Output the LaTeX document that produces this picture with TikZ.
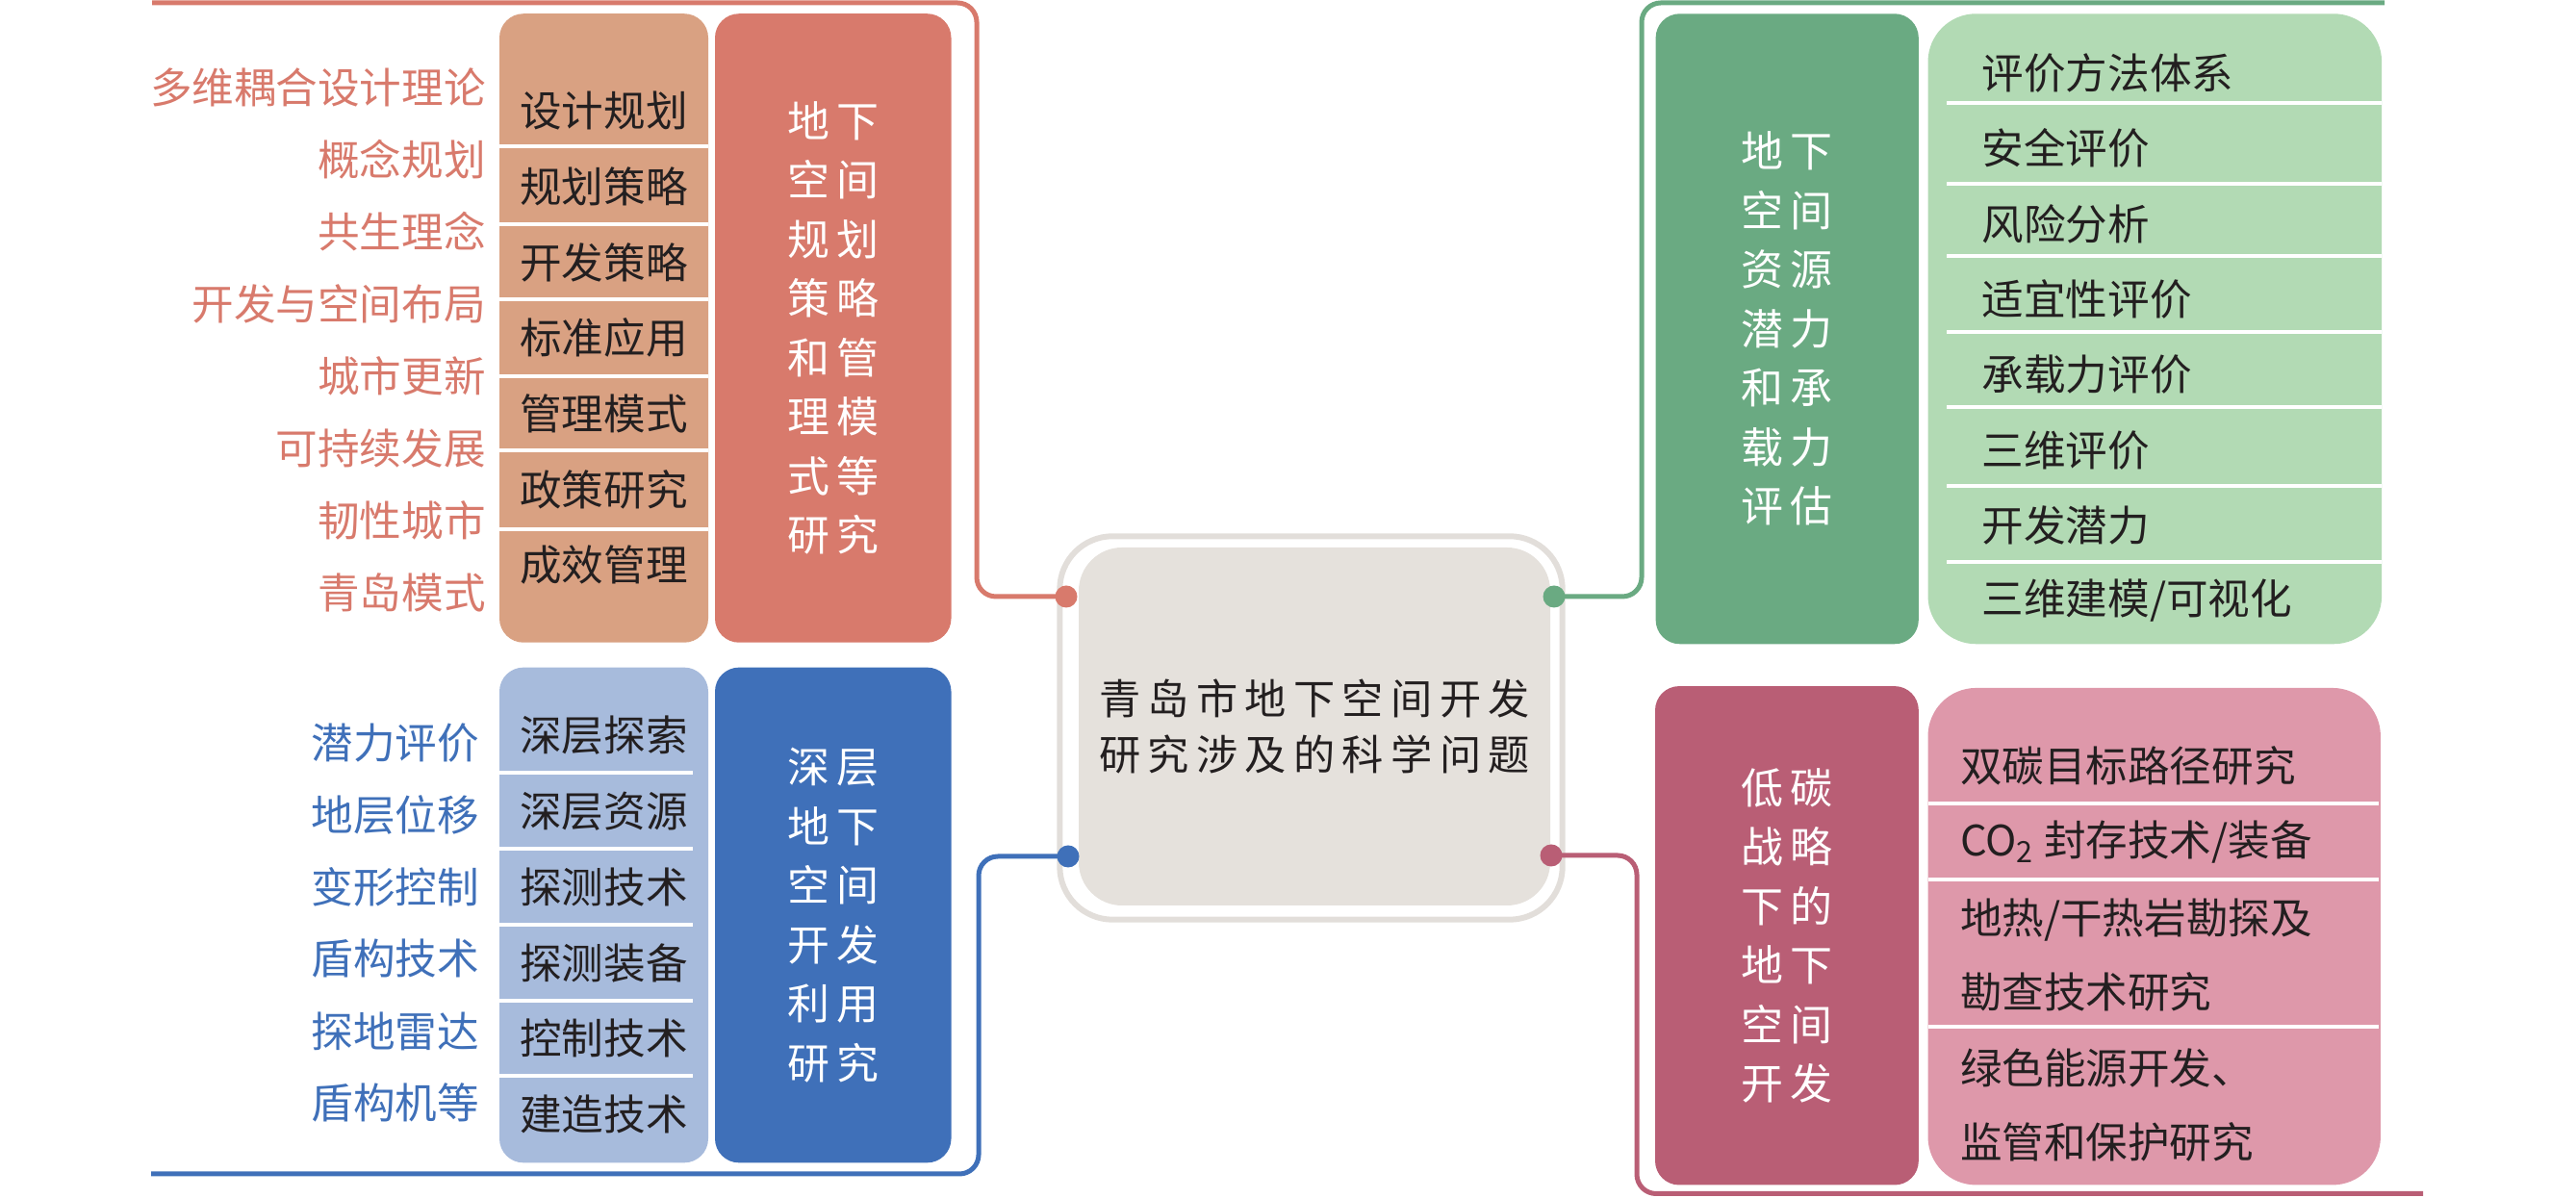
\documentclass[tikz,border=0pt]{standalone}
\usepackage{fontspec}
\setmainfont{Noto Sans CJK SC}
\newfontfamily\hubfont[LetterSpace=17]{Noto Sans CJK SC}
\usepackage{tikz}
\usetikzlibrary{shapes,arrows,calc,positioning}

\definecolor{planlight}{HTML}{D9A182}
\definecolor{plandark}{HTML}{D87A6C}
\definecolor{deeplight}{HTML}{A7BBDC}
\definecolor{deepdark}{HTML}{3F70B9}
\definecolor{evallight}{HTML}{B2DAB4}
\definecolor{evaldark}{HTML}{6AAA82}
\definecolor{lowlight}{HTML}{DE98AA}
\definecolor{lowdark}{HTML}{B95E75}
\definecolor{hubfill}{HTML}{E5E1DC}
\definecolor{hubring}{HTML}{E2DEDA}
\definecolor{inktext}{HTML}{231F20}

\newcommand{\colgap}{\hspace{0.07cm}}

\tikzset{
 groupbox/.style={rounded corners=0.25cm, inner sep=0pt, align=center},
 widebox/.style={rounded corners=0.5cm, inner sep=0pt},
 vtext/.style={text=white, font=\fontsize{12.5}{17.5}\selectfont},
 listitem/.style={inner sep=0pt, text=inktext, align=left, font=\fontsize{12.4}{21.9}\selectfont},
 sidetext/.style={inner sep=0pt, anchor=east, font=\fontsize{12.4}{15}\selectfont},
 sepline/.style={white, line width=0.04cm},
 connector/.style={line width=0.05cm, rounded corners=0.2cm},
 hubdot/.style={circle, inner sep=0pt, minimum size=0.23cm},
}

\begin{document}
\begin{tikzpicture}
 \useasboundingbox (0,0) rectangle (26.77,12.45);

 % planning group
 \node[groupbox, fill=planlight, minimum width=2.17cm, minimum height=6.535cm] (planList) at (6.275,9.04) {};
 \node[groupbox, fill=plandark, minimum width=2.455cm, minimum height=6.535cm, vtext] (planTitle) at (8.6575,9.04)
  {地\colgap 下\\空\colgap 间\\规\colgap 划\\策\colgap 略\\和\colgap 管\\理\colgap 模\\式\colgap 等\\研\colgap 究};
 \draw[sepline] (5.19,10.93) -- (7.36,10.93);
 \draw[sepline] (5.19,10.12) -- (7.36,10.12);
 \draw[sepline] (5.19,9.34) -- (7.36,9.34);
 \draw[sepline] (5.19,8.54) -- (7.36,8.54);
 \draw[sepline] (5.19,7.77) -- (7.36,7.77);
 \draw[sepline] (5.19,6.95) -- (7.36,6.95);
 \node[listitem] (planItem1) at (6.275,11.30) {设计规划};
 \node[listitem] (planItem2) at (6.275,10.51) {规划策略};
 \node[listitem] (planItem3) at (6.275,9.72) {开发策略};
 \node[listitem] (planItem4) at (6.275,8.94) {标准应用};
 \node[listitem] (planItem5) at (6.275,8.15) {管理模式};
 \node[listitem] (planItem6) at (6.275,7.36) {政策研究};
 \node[listitem] (planItem7) at (6.275,6.575) {成效管理};
 \node[sidetext, text=plandark] (planNote1) at (5.054,11.545) {多维耦合设计理论};
 \node[sidetext, text=plandark] (planNote2) at (5.054,10.794) {概念规划};
 \node[sidetext, text=plandark] (planNote3) at (5.054,10.043) {共生理念};
 \node[sidetext, text=plandark] (planNote4) at (5.054,9.292) {开发与空间布局};
 \node[sidetext, text=plandark] (planNote5) at (5.054,8.541) {城市更新};
 \node[sidetext, text=plandark] (planNote6) at (5.054,7.790) {可持续发展};
 \node[sidetext, text=plandark] (planNote7) at (5.054,7.039) {韧性城市};
 \node[sidetext, text=plandark] (planNote8) at (5.054,6.288) {青岛模式};

 % deep group
 \node[groupbox, fill=deeplight, minimum width=2.17cm, minimum height=5.147cm] (deepList) at (6.275,2.94) {};
 \node[groupbox, fill=deepdark, minimum width=2.455cm, minimum height=5.147cm, vtext] (deepTitle) at (8.6575,2.94)
  {深\colgap 层\\地\colgap 下\\空\colgap 间\\开\colgap 发\\利\colgap 用\\研\colgap 究};
 \draw[sepline] (5.19,4.415) -- (7.2,4.415);
 \draw[sepline] (5.19,3.628) -- (7.2,3.628);
 \draw[sepline] (5.19,2.841) -- (7.2,2.841);
 \draw[sepline] (5.19,2.054) -- (7.2,2.054);
 \draw[sepline] (5.19,1.267) -- (7.2,1.267);
 \node[listitem] (deepItem1) at (6.275,4.805) {深层探索};
 \node[listitem] (deepItem2) at (6.275,4.018) {深层资源};
 \node[listitem] (deepItem3) at (6.275,3.231) {探测技术};
 \node[listitem] (deepItem4) at (6.275,2.444) {探测装备};
 \node[listitem] (deepItem5) at (6.275,1.657) {控制技术};
 \node[listitem] (deepItem6) at (6.275,0.870) {建造技术};
 \node[sidetext, text=deepdark] (deepNote1) at (4.985,4.733) {潜力评价};
 \node[sidetext, text=deepdark] (deepNote2) at (4.985,3.984) {地层位移};
 \node[sidetext, text=deepdark] (deepNote3) at (4.985,3.234) {变形控制};
 \node[sidetext, text=deepdark] (deepNote4) at (4.985,2.485) {盾构技术};
 \node[sidetext, text=deepdark] (deepNote5) at (4.985,1.735) {探地雷达};
 \node[sidetext, text=deepdark] (deepNote6) at (4.985,0.986) {盾构机等};

 % evaluation group
 \node[groupbox, fill=evaldark, minimum width=2.732cm, minimum height=6.55cm, vtext] (evalTitle) at (18.572,9.032)
  {地\colgap 下\\空\colgap 间\\资\colgap 源\\潜\colgap 力\\和\colgap 承\\载\colgap 力\\评\colgap 估};
 \node[widebox, fill=evallight, minimum width=4.716cm, minimum height=6.55cm] (evalList) at (22.393,9.032) {};
 \draw[sepline] (20.23,11.38) -- (24.75,11.38);
 \draw[sepline] (20.23,10.54) -- (24.75,10.54);
 \draw[sepline] (20.23,9.79) -- (24.75,9.79);
 \draw[sepline] (20.23,9.00) -- (24.75,9.00);
 \draw[sepline] (20.23,8.22) -- (24.75,8.22);
 \draw[sepline] (20.23,7.40) -- (24.75,7.40);
 \draw[sepline] (20.23,6.61) -- (24.75,6.61);
 \node[listitem, anchor=west] (evalItem1) at (20.59,11.692) {评价方法体系};
 \node[listitem, anchor=west] (evalItem2) at (20.59,10.909) {安全评价};
 \node[listitem, anchor=west] (evalItem3) at (20.59,10.125) {风险分析};
 \node[listitem, anchor=west] (evalItem4) at (20.59,9.341) {适宜性评价};
 \node[listitem, anchor=west] (evalItem5) at (20.59,8.558) {承载力评价};
 \node[listitem, anchor=west] (evalItem6) at (20.59,7.774) {三维评价};
 \node[listitem, anchor=west] (evalItem7) at (20.59,6.990) {开发潜力};
 \node[listitem, anchor=west] (evalItem8) at (20.59,6.207) {三维建模/可视化};

 % low carbon group
 \node[groupbox, fill=lowdark, minimum width=2.738cm, minimum height=5.184cm, vtext] (lowTitle) at (18.569,2.727)
  {低\colgap 碳\\战\colgap 略\\下\colgap 的\\地\colgap 下\\空\colgap 间\\开\colgap 发};
 \node[widebox, fill=lowlight, minimum width=4.704cm, minimum height=5.165cm] (lowList) at (22.387,2.718) {};
 \draw[sepline] (20.035,4.101) -- (24.72,4.101);
 \draw[sepline] (20.035,3.307) -- (24.72,3.307);
 \draw[sepline] (20.035,1.776) -- (24.72,1.776);
 \node[listitem, anchor=west] (lowItem1) at (20.363,4.494) {双碳目标路径研究};
 \node[listitem, anchor=west] (lowItem2) at (20.363,3.704) {CO\textsubscript{2} 封存技术/装备};
 \node[listitem, anchor=west] (lowItem3) at (20.363,2.525) {地热/干热岩勘探及\\勘查技术研究};
 \node[listitem, anchor=west] (lowItem4) at (20.363,0.964) {绿色能源开发、\\监管和保护研究};

 % hub
 \node[rounded corners=0.45cm, fill=hubfill, minimum width=4.90cm, minimum height=3.72cm, align=center, text=inktext,
  font=\hubfont\fontsize{12.3}{16.5}\selectfont] (hub) at (13.66,4.90)
  {青岛市地下空间开发\\研究涉及的科学问题};
 \draw[hubring, line width=0.06cm, rounded corners=0.55cm] ($(hub.south west)+(-0.19,-0.14)$) rectangle ($(hub.north east)+(0.12,0.11)$);

 \node[hubdot, fill=plandark] (planDot) at (11.08,6.25) {};
 \node[hubdot, fill=evaldark] (evalDot) at (16.15,6.25) {};
 \node[hubdot, fill=deepdark] (deepDot) at (11.10,3.55) {};
 \node[hubdot, fill=lowdark] (lowDot) at (16.12,3.56) {};

 \coordinate (planTurn) at (10.15,12.42);
 \coordinate (planEnd) at (1.58,12.42);
 \coordinate (evalTurn) at (17.06,12.42);
 \coordinate (evalEnd) at (24.78,12.42);
 \coordinate (deepTurn) at (10.17,0.25);
 \coordinate (deepEnd) at (1.57,0.25);
 \coordinate (lowTurn) at (17.01,0.045);
 \coordinate (lowEnd) at (25.18,0.045);

 \draw[connector, draw=plandark] (planDot.center) -| (planTurn) -- (planEnd);
 \draw[connector, draw=evaldark] (evalDot.center) -| (evalTurn) -- (evalEnd);
 \draw[connector, draw=deepdark] (deepDot.center) -| (deepTurn) -- (deepEnd);
 \draw[connector, draw=lowdark] (lowDot.center) -| (lowTurn) -- (lowEnd);
\end{tikzpicture}
\end{document}
